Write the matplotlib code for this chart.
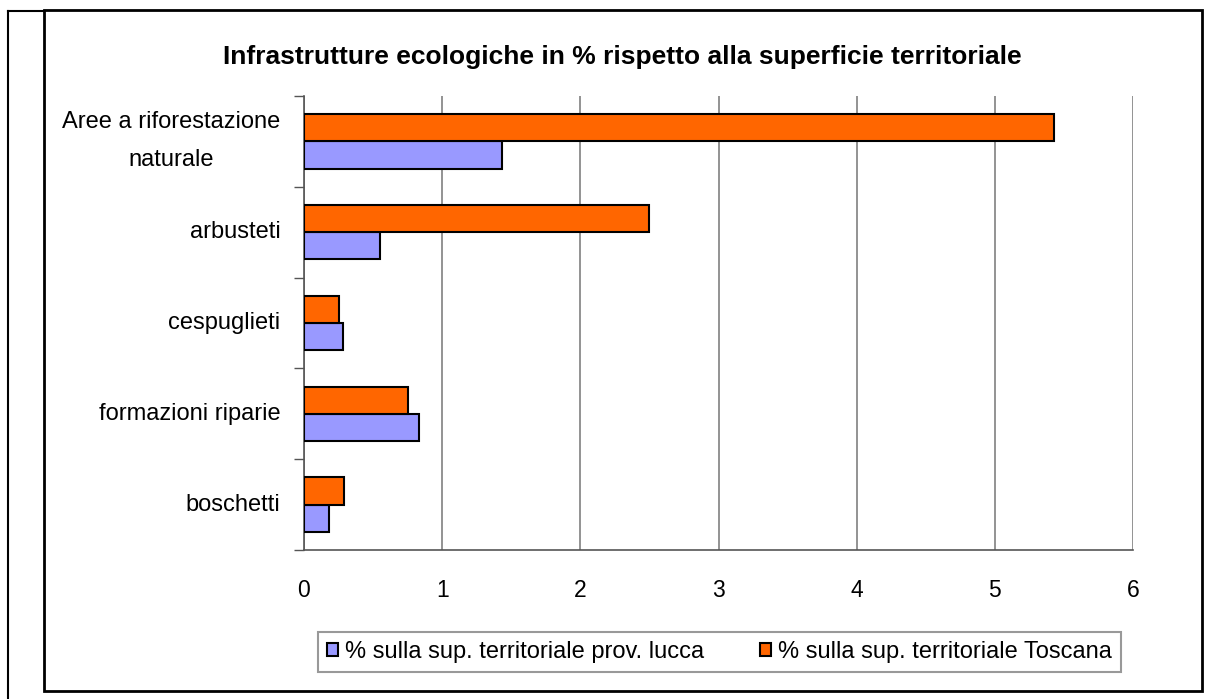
import numpy as np
import matplotlib.pyplot as plt
from matplotlib.lines import Line2D
from matplotlib.patches import Rectangle

plt.rcParams['font.family'] = ['Liberation Sans', 'DejaVu Sans']

# dati
categorie = ['Aree a riforestazione\nnaturale', 'arbusteti', 'cespuglieti',
             'formazioni riparie', 'boschetti']
lucca = [1.43, 0.55, 0.28, 0.83, 0.18]
toscana = [5.43, 2.50, 0.25, 0.75, 0.29]
serie = ['% sulla sup. territoriale prov. lucca', '% sulla sup. territoriale Toscana']
titolo = 'Infrastrutture ecologiche in % rispetto alla superficie territoriale'

fig = plt.figure(figsize=(12.08, 6.99), dpi=100)
W, H = 1208, 699
ax = fig.add_axes([304 / W, 1 - 550 / H, (1133 - 304) / W, (550 - 96) / H])

y = np.arange(len(categorie))[::-1]
h = 0.3
ax.barh(y - h / 2, lucca, height=h, color='#9999FF', edgecolor='black', linewidth=1.5,
        label=serie[0], zorder=3)
ax.barh(y + h / 2, toscana, height=h, color='#FF6600', edgecolor='black', linewidth=1.5,
        label=serie[1], zorder=3)

ax.set_xlim(0, 6)
ax.set_ylim(-0.5, len(categorie) - 0.5)
ax.set_xticks(range(7))
ax.tick_params(axis='x', labelsize=16.5, length=0, pad=21)
ax.set_yticks(y)
ax.set_yticklabels(categorie, fontsize=17, multialignment='center', linespacing=1.95, va='center')
ax.tick_params(axis='y', length=0, pad=17)
# tacche tra le categorie
ax.set_yticks(np.arange(-0.5, len(categorie), 1), minor=True)
ax.tick_params(axis='y', which='minor', length=7, color='#555555', width=1)
ax.set_xticks(range(7), minor=True)
ax.tick_params(axis='x', which='minor', length=7, direction='inout', color='#555555', width=1)
ax.grid(axis='x', color='#808080', linewidth=1.2, zorder=0)
for s in ['top', 'right']:
    ax.spines[s].set_visible(False)
for s in ['left', 'bottom']:
    ax.spines[s].set_color('#555555')
    ax.spines[s].set_linewidth(1.2)

fig.text(622 / W, 1 - 57 / H, titolo, ha='center', va='center', fontsize=19, fontweight='bold')

handles, labels = ax.get_legend_handles_labels()
leg = fig.legend(handles, labels, loc='center', bbox_to_anchor=(719.5 / W, 1 - 652 / H),
                 ncol=2, fontsize=17, frameon=True, fancybox=False, edgecolor='#808080',
                 handlelength=0.45, handleheight=0.45, handletextpad=0.3, columnspacing=2.4,
                 borderpad=0.4, borderaxespad=0)
leg.get_frame().set_linewidth(1.5)

# cornici esterne
fig.add_artist(Rectangle((44 / W, 1 - 691 / H), (1202 - 44) / W, (691 - 10) / H,
                         transform=fig.transFigure, fill=False, edgecolor='black', linewidth=2))
fig.add_artist(Line2D([8 / W, 8 / W], [0, 1 - 11 / H], transform=fig.transFigure,
                      color='black', linewidth=1.5))
fig.add_artist(Line2D([8 / W, 44 / W], [1 - 11 / H, 1 - 11 / H], transform=fig.transFigure,
                      color='black', linewidth=1.5))

fig.savefig('out.png', dpi=100)
